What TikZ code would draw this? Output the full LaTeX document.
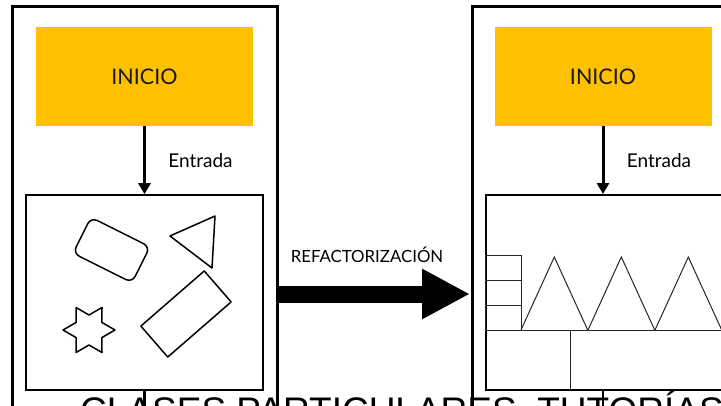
\documentclass[tikz,border=0pt]{standalone}
\usepackage{fontspec}
\setmainfont{Lato}
\newfontfamily\markfont{Liberation Sans}
\usepackage{xcolor}
\usetikzlibrary{arrows.meta}
\usetikzlibrary{positioning}
\definecolor{inicioyellow}{HTML}{FFC000}

\begin{document}
\begin{tikzpicture}[x=1pt,y=-1pt,
	frame/.style={line width=3pt},
	inicio/.style={fill=inicioyellow,minimum width=217pt,minimum height=99pt,inner sep=0pt,text=black!90,font=\fontsize{21.5}{24}\selectfont},
	panel/.style={draw,line width=2pt,minimum height=195pt,inner sep=0pt},
	flow/.style={line width=3pt,-{Triangle[length=11pt,width=12pt]}},
	shapeline/.style={line width=1.5pt,line join=round},
	thinline/.style={line width=1pt,black!85}]
\useasboundingbox (0,0) rectangle (721,405);
\clip (0,0) rectangle (721,405);
\fill[white] (0,0) rectangle (721,405);
% frames
\draw[frame] (12,430) -- (12,6) -- (277,6) -- (277,430);
\draw[frame] (472,430) -- (472,6) -- (760,6);
\node[inicio] (startL) at (144.5,76.5) {INICIO};
\node[inicio] (startR) at (603,76.5) {INICIO};
\node[panel,minimum width=237pt,below=68pt of startL] (panelL) {};
\node[panel,minimum width=270pt,anchor=north west] (panelR) at (485,194) {};
\draw[flow] (startL) -- (panelL) node[midway,right=19pt,font=\fontsize{19}{22}\selectfont] {Entrada};
\draw[flow] (startR) -- (startR.south |- panelR.north) node[midway,right=19pt,font=\fontsize{19}{22}\selectfont] {Entrada};
\coordinate (outL) at (144.5,430);
\coordinate (outR) at (603,430);
\draw[line width=2.5pt] (panelL.south) -- (outL);
\draw[line width=2.5pt] (panelR.south -| outR) -- (outR);
% shapes before
\draw[shapeline,rounded corners=7pt,shift={(111.5,250)},rotate=-26.6] (-33,-20) rectangle (33,20);
\draw[shapeline] (170,236) -- (215,216) -- (212,268) -- cycle;
\draw[shapeline,shift={(186,314)},rotate=41] (-42,-20.5) rectangle (42,20.5);
\draw[shapeline,shift={(89,330)}] (0:26)
	\foreach \a [evaluate=\a as \b using \a+30] in {30,90,...,330}{ -- (\a:15) -- (\b:26)} -- cycle;
% refactor arrow
\coordinate (gapL) at (277,294);
\coordinate (gapR) at (470,294);
\draw[line width=17pt,-{Triangle[length=48pt,width=47pt]}] (gapL) -- (gapR);
\node[font=\fontsize{16.8}{19}\selectfont] (refac) at (367,255) {REFACTORIZACIÓN};
% shapes after
\foreach \y in {255,280,305}
	\draw[thinline] (485,\y) rectangle (521,\y+25);
\foreach \x in {521,588,655}
	\draw[thinline] (\x,330) -- (\x+33.3,257) -- (\x+66.7,330);
\draw[thinline] (485,330) -- (760,330);
\draw[thinline] (570,330) -- (570,389);
\node[font=\markfont\fontsize{37}{40}\selectfont,anchor=base west,inner sep=0pt] (mark) at (80,423) {CLASES PARTICULARES, TUTORÍAS ONLINE};
\end{tikzpicture}
\end{document}
